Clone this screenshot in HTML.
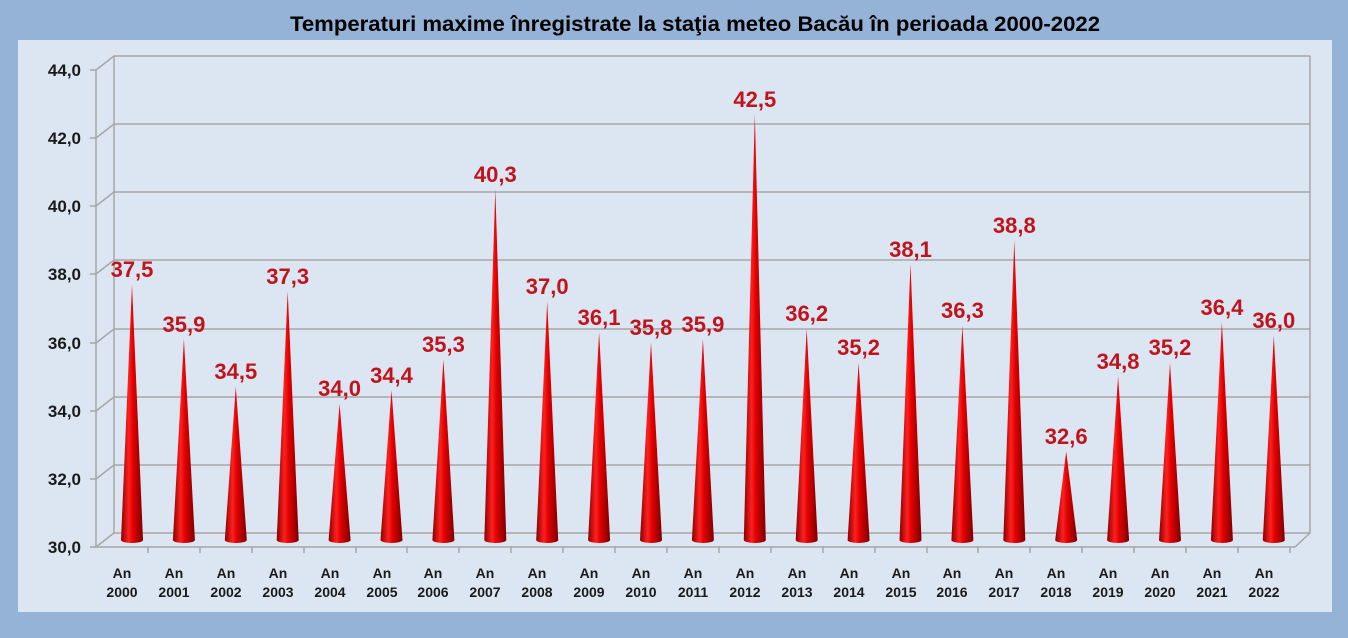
<!DOCTYPE html>
<html><head><meta charset="utf-8"><style>
body{margin:0;width:1348px;height:638px;overflow:hidden;background:#95b3d7}
svg{display:block;font-family:"Liberation Sans",Arial,sans-serif}
</style></head><body>
<svg width="1348" height="638" viewBox="0 0 1348 638">
<defs>
<linearGradient id="g" x1="0" x2="1" y1="0" y2="0">
<stop offset="0" stop-color="#8a0000"/><stop offset="0.35" stop-color="#ff2020"/><stop offset="0.55" stop-color="#e00000"/><stop offset="1" stop-color="#7a0000"/>
</linearGradient>
</defs>
<rect x="0" y="0" width="1348" height="638" fill="#95b3d7"/>
<rect x="18" y="40" width="1314" height="572" fill="#dce6f2"/>
<text x="290" y="31" textLength="810" lengthAdjust="spacingAndGlyphs" font-size="21" font-weight="bold" fill="#000">Temperaturi maxime înregistrate la staţia meteo Bacău în perioada 2000-2022</text>
<g stroke="#a6a6a6" stroke-width="1.5" fill="none">
<path d="M96 70 L114 56 H1310"/><path d="M96 138 L114 124 H1310"/><path d="M96 206 L114 192 H1310"/><path d="M96 274 L114 260 H1310"/><path d="M96 343 L114 329 H1310"/><path d="M96 411 L114 397 H1310"/><path d="M96 479 L114 465 H1310"/>
<path d="M114 56 V533 H1310 V56"/><path d="M96 547 L114 533 M1310 533 L1295 547"/>
<path d="M96 70 V547 H1295"/>
<path d="M90 70 H96 M90 138 H96 M90 206 H96 M90 274 H96 M90 343 H96 M90 411 H96 M90 479 H96 M90 547 H96"/>
<path d="M148 547 V553 M200 547 V553 M252 547 V553 M304 547 V553 M356 547 V553 M407 547 V553 M459 547 V553 M511 547 V553 M563 547 V553 M615 547 V553 M667 547 V553 M719 547 V553 M771 547 V553 M823 547 V553 M875 547 V553 M927 547 V553 M978 547 V553 M1030 547 V553 M1082 547 V553 M1134 547 V553 M1186 547 V553 M1238 547 V553 M1290 547 V553"/>
</g>
<g font-size="17" font-weight="bold" fill="#1a1a1a" text-anchor="end">
<text x="81" y="76">44,0</text><text x="81" y="144">42,0</text><text x="81" y="212">40,0</text><text x="81" y="280">38,0</text><text x="81" y="349">36,0</text><text x="81" y="417">34,0</text><text x="81" y="485">32,0</text><text x="81" y="553">30,0</text>
</g>
<g fill="url(#g)">
<path d="M121 540 L132 284.5 L143 540 A11 3 0 0 1 121 540Z"/>
<path d="M172.9 540 L183.9 339 L194.9 540 A11 3 0 0 1 172.9 540Z"/>
<path d="M224.8 540 L235.8 386.7 L246.8 540 A11 3 0 0 1 224.8 540Z"/>
<path d="M276.7 540 L287.7 291.3 L298.7 540 A11 3 0 0 1 276.7 540Z"/>
<path d="M328.6 540 L339.6 403.7 L350.6 540 A11 3 0 0 1 328.6 540Z"/>
<path d="M380.5 540 L391.5 390.1 L402.5 540 A11 3 0 0 1 380.5 540Z"/>
<path d="M432.4 540 L443.4 359.4 L454.4 540 A11 3 0 0 1 432.4 540Z"/>
<path d="M484.3 540 L495.3 189.1 L506.3 540 A11 3 0 0 1 484.3 540Z"/>
<path d="M536.2 540 L547.2 301.5 L558.2 540 A11 3 0 0 1 536.2 540Z"/>
<path d="M588.1 540 L599.1 332.2 L610.1 540 A11 3 0 0 1 588.1 540Z"/>
<path d="M640 540 L651 342.4 L662 540 A11 3 0 0 1 640 540Z"/>
<path d="M691.9 540 L702.9 339 L713.9 540 A11 3 0 0 1 691.9 540Z"/>
<path d="M743.8 540 L754.8 114.1 L765.8 540 A11 3 0 0 1 743.8 540Z"/>
<path d="M795.7 540 L806.7 328.8 L817.7 540 A11 3 0 0 1 795.7 540Z"/>
<path d="M847.6 540 L858.6 362.8 L869.6 540 A11 3 0 0 1 847.6 540Z"/>
<path d="M899.5 540 L910.5 264 L921.5 540 A11 3 0 0 1 899.5 540Z"/>
<path d="M951.4 540 L962.4 325.4 L973.4 540 A11 3 0 0 1 951.4 540Z"/>
<path d="M1003.3 540 L1014.3 240.2 L1025.3 540 A11 3 0 0 1 1003.3 540Z"/>
<path d="M1055.2 540 L1066.2 451.4 L1077.2 540 A11 3 0 0 1 1055.2 540Z"/>
<path d="M1107.1 540 L1118.1 376.5 L1129.1 540 A11 3 0 0 1 1107.1 540Z"/>
<path d="M1159 540 L1170 362.8 L1181 540 A11 3 0 0 1 1159 540Z"/>
<path d="M1210.9 540 L1221.9 322 L1232.9 540 A11 3 0 0 1 1210.9 540Z"/>
<path d="M1262.8 540 L1273.8 335.6 L1284.8 540 A11 3 0 0 1 1262.8 540Z"/>
</g>
<g font-size="22" font-weight="bold" fill="#c0141c" text-anchor="middle">
<text x="132" y="277">37,5</text><text x="183.9" y="332">35,9</text><text x="235.8" y="379">34,5</text><text x="287.7" y="284">37,3</text><text x="339.6" y="396">34,0</text><text x="391.5" y="383">34,4</text><text x="443.4" y="352">35,3</text><text x="495.3" y="182">40,3</text><text x="547.2" y="294">37,0</text><text x="599.1" y="325">36,1</text><text x="651" y="335">35,8</text><text x="702.9" y="332">35,9</text><text x="754.8" y="107">42,5</text><text x="806.7" y="321">36,2</text><text x="858.6" y="355">35,2</text><text x="910.5" y="257">38,1</text><text x="962.4" y="318">36,3</text><text x="1014.3" y="233">38,8</text><text x="1066.2" y="444">32,6</text><text x="1118.1" y="369">34,8</text><text x="1170" y="355">35,2</text><text x="1221.9" y="315">36,4</text><text x="1273.8" y="328">36,0</text>
</g>
<g font-size="14" font-weight="bold" fill="#1a1a1a" text-anchor="middle">
<text x="122" y="578">An</text><text x="122" y="597">2000</text>
<text x="174" y="578">An</text><text x="174" y="597">2001</text>
<text x="226" y="578">An</text><text x="226" y="597">2002</text>
<text x="278" y="578">An</text><text x="278" y="597">2003</text>
<text x="330" y="578">An</text><text x="330" y="597">2004</text>
<text x="382" y="578">An</text><text x="382" y="597">2005</text>
<text x="433" y="578">An</text><text x="433" y="597">2006</text>
<text x="485" y="578">An</text><text x="485" y="597">2007</text>
<text x="537" y="578">An</text><text x="537" y="597">2008</text>
<text x="589" y="578">An</text><text x="589" y="597">2009</text>
<text x="641" y="578">An</text><text x="641" y="597">2010</text>
<text x="693" y="578">An</text><text x="693" y="597">2011</text>
<text x="745" y="578">An</text><text x="745" y="597">2012</text>
<text x="797" y="578">An</text><text x="797" y="597">2013</text>
<text x="849" y="578">An</text><text x="849" y="597">2014</text>
<text x="901" y="578">An</text><text x="901" y="597">2015</text>
<text x="952" y="578">An</text><text x="952" y="597">2016</text>
<text x="1004" y="578">An</text><text x="1004" y="597">2017</text>
<text x="1056" y="578">An</text><text x="1056" y="597">2018</text>
<text x="1108" y="578">An</text><text x="1108" y="597">2019</text>
<text x="1160" y="578">An</text><text x="1160" y="597">2020</text>
<text x="1212" y="578">An</text><text x="1212" y="597">2021</text>
<text x="1264" y="578">An</text><text x="1264" y="597">2022</text>
</g>
</svg>
</body></html>
